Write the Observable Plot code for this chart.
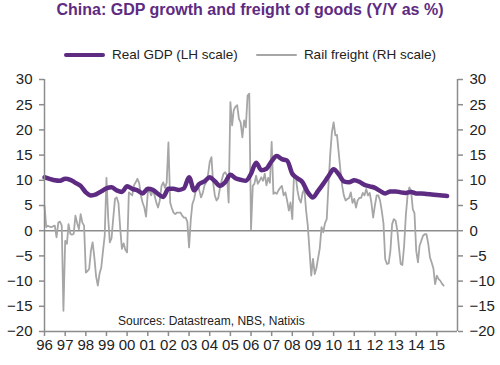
<!DOCTYPE html>
<html><head><meta charset="utf-8">
<script src="https://cdn.jsdelivr.net/npm/d3@7"></script>
<script src="https://cdn.jsdelivr.net/npm/@observablehq/plot@0.6"></script>
<style>
body{margin:0;background:#fff;font-family:"Liberation Sans",Arial,sans-serif;}
#wrap{position:relative;width:500px;height:365px;overflow:hidden;}
#chart{position:absolute;left:0;top:0;}
#title{position:absolute;left:0;top:1px;width:500px;text-align:center;font-weight:bold;font-size:16px;color:#5e2b82;white-space:nowrap;}
#legend{position:absolute;left:0;top:47px;width:500px;display:flex;justify-content:center;align-items:center;font-size:13.5px;color:#222;white-space:nowrap;}
.sw{display:inline-block;width:41px;margin-right:7px;border-radius:2px;}
.item{display:flex;align-items:center;margin:0 9px;}
#source{position:absolute;left:118px;top:314px;font-size:12px;color:#222;white-space:nowrap;}
</style>
</head><body>
<div id="wrap">
<div id="chart"></div>
<div id="title">China: GDP growth and freight of goods (Y/Y as %)</div>
<div id="legend">
 <div class="item"><span class="sw" style="height:4px;background:#5e2b82"></span>Real GDP (LH scale)</div>
 <div class="item"><span class="sw" style="height:2px;background:#a6a6a6"></span>Rail freight (RH scale)</div>
</div>
<div id="source">Sources: Datastream, NBS, Natixis</div>
</div>
<script>
// Real GDP, Y/Y %, quarterly from 1996 Q1
const gdpStartYear = 1996;
const gdpQuarterly = [
 10.6,10.3,10.0,9.9,
 10.3,10.1,9.5,8.9,
 7.6,7.0,7.2,7.8,
 8.4,8.6,8.0,7.7,
 8.8,8.3,8.0,7.4,
 8.3,8.1,7.3,6.7,
 8.3,8.3,8.1,8.4,
 10.6,8.0,9.3,9.8,
 10.6,9.8,8.9,9.6,
 11.1,10.4,10.1,9.9,
 11.3,13.5,12.0,12.3,
 13.8,14.8,14.2,13.9,
 11.3,10.4,9.6,7.6,
 6.6,7.9,9.3,10.8,
 12.2,11.2,9.8,9.6,
 10.0,9.7,9.1,8.8,
 8.5,7.9,7.4,7.8,
 7.8,7.6,7.5,7.7,
 7.4,7.4,7.3,7.2,
 7.1,7.0,6.9
];
// Rail freight, Y/Y %, monthly from Jan 1996
const freightStartYear = 1996;
const freightMonthly = [
 5.0,0.7,1.0,0.8,0.7,0.9,1.0,-1.3,1.6,1.8,1.0,-15.9,
 -2.0,-2.6,1.3,-0.6,-0.8,-0.6,3.0,1.5,0.3,3.3,1.6,1.0,
 -8.3,-8.0,-7.6,-4.0,-2.3,-5.3,-9.0,-10.9,-8.5,-7.3,-4.0,-1.0,
 10.5,2.5,-2.3,-1.5,2.5,6.3,6.6,5.5,0.5,-3.6,-2.5,-3.8,
 -4.3,7.6,7.3,7.0,9.0,9.6,10.3,9.5,7.0,5.6,4.6,2.8,
 7.6,8.0,7.0,8.0,7.0,5.6,4.6,6.0,8.9,9.6,8.5,9.5,
 17.5,5.6,4.5,3.6,3.3,3.6,3.6,3.6,3.0,2.6,2.6,1.8,
 -3.3,2.3,5.3,6.3,8.0,9.3,8.0,6.6,7.5,9.0,9.6,11.0,
 13.6,14.6,9.6,7.0,6.0,6.5,8.5,10.0,11.3,11.6,11.0,5.6,
 25.5,20.9,23.9,24.6,24.9,22.2,21.5,18.5,21.9,20.5,26.8,27.2,
 0.3,8.9,9.3,10.9,9.3,9.9,10.6,9.9,11.3,9.0,10.5,9.5,
 17.6,7.3,7.6,7.3,8.0,8.5,8.9,7.0,7.6,6.0,4.0,5.6,
 2.3,11.3,10.9,8.0,6.3,5.6,7.5,8.3,4.0,1.0,-4.0,-8.9,
 -5.6,-8.6,-7.5,-5.5,-3.5,0.7,-0.3,1.5,2.3,8.9,15.0,19.5,
 21.5,18.9,19.0,15.5,12.0,8.9,7.0,6.0,6.3,6.5,7.6,5.5,
 6.3,4.6,6.0,6.5,6.5,7.5,7.0,8.3,7.0,7.5,5.5,2.6,
 5.0,7.0,7.0,6.0,4.0,1.4,-5.6,-6.6,-6.5,-4.0,1.3,2.3,
 2.0,0.0,-3.3,-6.6,-6.8,-3.0,3.0,7.0,8.6,8.0,4.3,3.5,
 -4.0,-6.3,-3.0,-2.0,-1.0,-0.7,-0.7,-2.5,-5.3,-6.3,-7.5,-10.6,
 -8.9,-9.6,-9.9,-10.5,-10.9
];
const yTicks = [-20,-15,-10,-5,0,5,10,15,20,25,30];
const yearTicks = [1996,1997,1998,1999,2000,2001,2002,2003,2004,2005,2006,2007,2008,2009,2010,2011,2012,2013,2014,2015];
const yearLabels = ["96","97","98","99","00","01","02","03","04","05","06","07","08","09","10","11","12","13","14","15"];

const gdp = gdpQuarterly.map((v,i)=>({date:new Date(Date.UTC(gdpStartYear+Math.floor(i/4),(i%4)*3,1)),value:v}));
const freight = freightMonthly.map((v,i)=>({date:new Date(Date.UTC(freightStartYear+Math.floor(i/12),i%12,1)),value:v}));
const tickDates = yearTicks.map(y=>new Date(Date.UTC(y,0,1)));
const xStart = new Date(Date.UTC(1996,0,1)), xEnd = new Date(Date.UTC(2016,0,1));

const axisColor = "#8c8c8c";
const chart = Plot.plot({
  width:500, height:365,
  marginTop:79, marginBottom:34, marginLeft:44, marginRight:43,
  style:{fontFamily:"'Liberation Sans', Arial, sans-serif", fontSize:"15px", color:"#222", background:"transparent"},
  x:{type:"utc", domain:[xStart,xEnd]},
  y:{domain:[-20,30]},
  marks:[
    Plot.ruleY([0],{stroke:axisColor,strokeWidth:1.5}),
    Plot.line(freight,{x:"date",y:"value",stroke:"#a6a6a6",strokeWidth:1.8}),
    Plot.line(gdp,{x:"date",y:"value",stroke:"#5e2b82",strokeWidth:4.5,curve:"monotone-x"}),
    Plot.ruleX([xStart],{stroke:axisColor,strokeWidth:1.5}),
    Plot.ruleX([xEnd],{stroke:axisColor,strokeWidth:1.5}),
    Plot.ruleY([-20],{stroke:axisColor,strokeWidth:1.5}),
    Plot.axisY({anchor:"left",ticks:yTicks,tickSize:5,tickPadding:7,label:null,stroke:axisColor,fill:"#222",strokeWidth:1.5}),
    Plot.axisY({anchor:"right",ticks:yTicks,tickSize:5,tickPadding:7,label:null,stroke:axisColor,fill:"#222",strokeWidth:1.5}),
    Plot.axisX({ticks:tickDates,tickFormat:(d)=>yearLabels[yearTicks.indexOf(d.getUTCFullYear())],tickSize:5,tickPadding:3,label:null,stroke:axisColor,fill:"#222",strokeWidth:1.5})
  ]
});
document.getElementById("chart").appendChild(chart);
</script>
</body></html>
